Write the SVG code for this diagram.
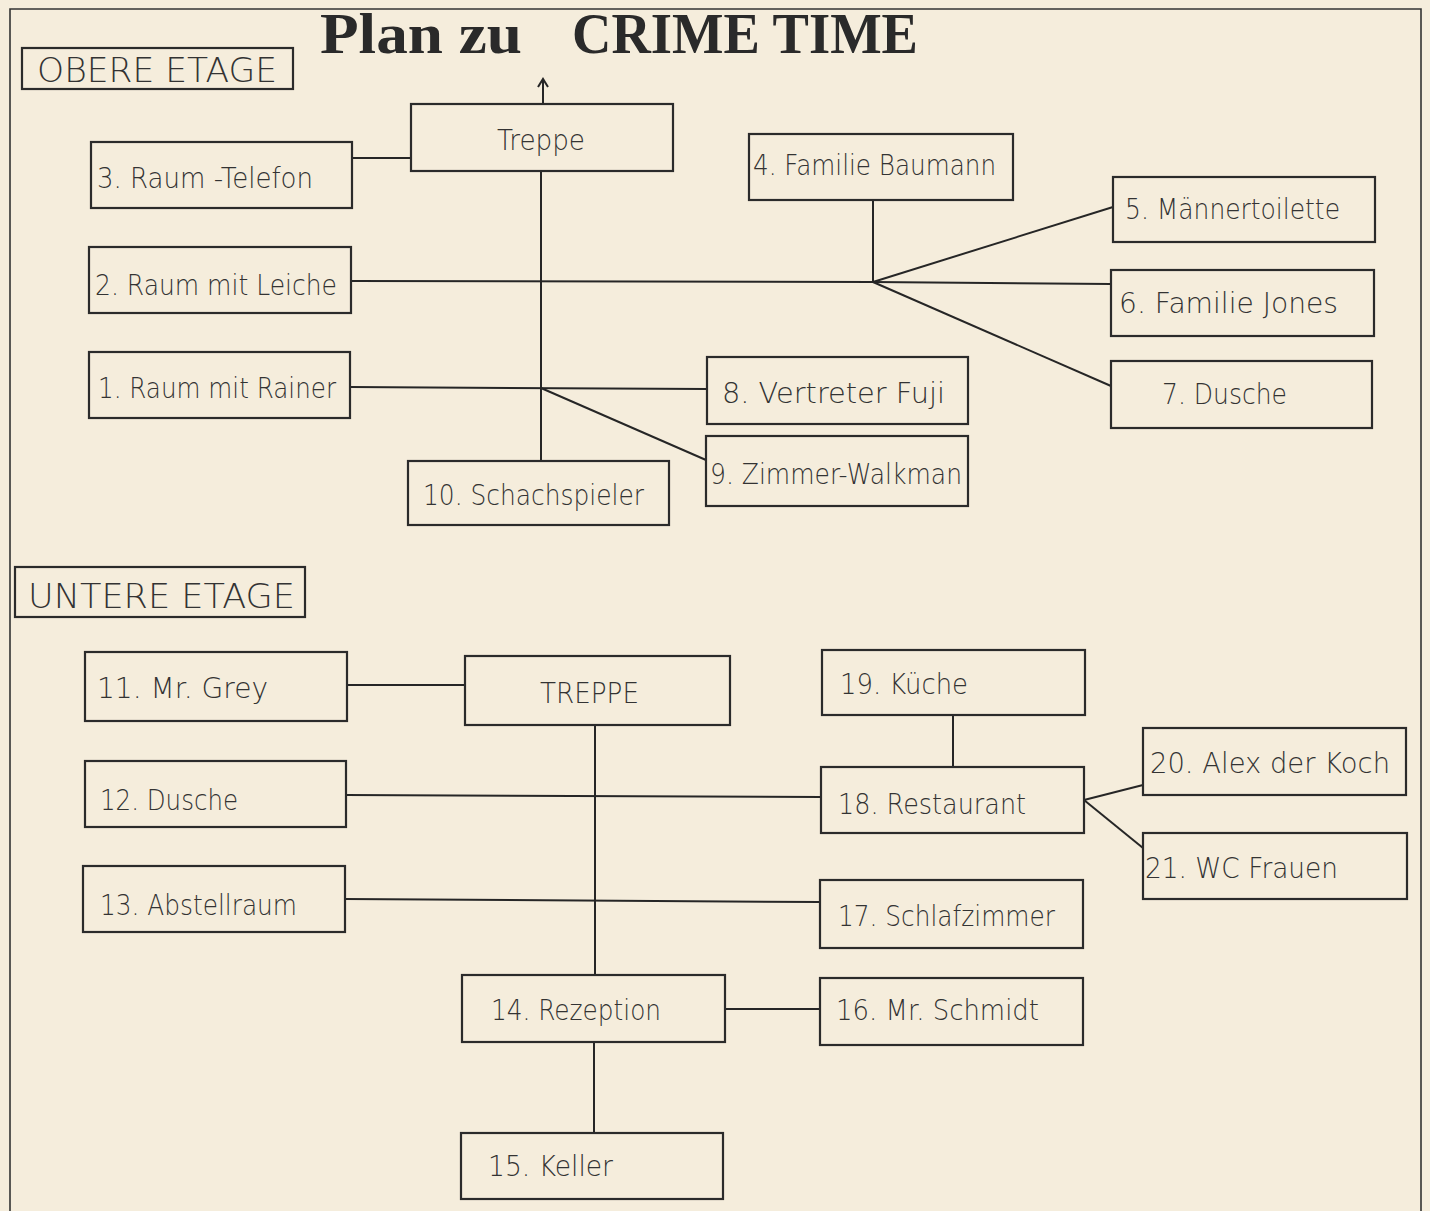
<svg xmlns="http://www.w3.org/2000/svg" width="1430" height="1211" viewBox="0 0 1430 1211">
<style>
.bg{fill:#f5eddc}
.frame{fill:none;stroke:#333;stroke-width:1.6}
.box{fill:none;stroke:#2b2b2b;stroke-width:2.2}
.lbl{font-family:"DejaVu Sans","Liberation Sans",sans-serif;font-weight:200;font-size:28px;fill:#333}
.big{font-size:33px}
.title{font-family:"Liberation Serif","DejaVu Serif",serif;font-weight:bold;font-size:56px;fill:#2a2a2a}
#connectors line,#connectors polyline{stroke:#262626;stroke-width:2;fill:none}
</style>
<rect class="bg" x="0" y="0" width="1430" height="1211"/>
<polyline class="frame" points="10,1211 10,9 1421,9 1421,1211"/>
<g id="title">
<text class="title" x="320" y="53" textLength="202" lengthAdjust="spacingAndGlyphs">Plan zu</text>
<text class="title" x="572" y="53" textLength="346" lengthAdjust="spacingAndGlyphs">CRIME TIME</text>
</g>
<g id="connectors">
<line x1="543" y1="104" x2="543" y2="80"/>
<polyline points="538,87 543,79 548,87"/>
<line x1="352" y1="158" x2="411" y2="158"/>
<line x1="541" y1="171" x2="541" y2="461"/>
<line x1="351" y1="281" x2="873" y2="282"/>
<line x1="873" y1="200" x2="873" y2="282"/>
<line x1="873" y1="282" x2="1113" y2="207"/>
<line x1="873" y1="282" x2="1111" y2="284"/>
<line x1="873" y1="282" x2="1111" y2="386"/>
<line x1="350" y1="387" x2="707" y2="389"/>
<line x1="541" y1="388" x2="706" y2="460"/>
<line x1="347" y1="685" x2="465" y2="685"/>
<line x1="595" y1="725" x2="595" y2="975"/>
<line x1="346" y1="795" x2="821" y2="797"/>
<line x1="953" y1="715" x2="953" y2="767"/>
<line x1="1084" y1="800" x2="1143" y2="785"/>
<line x1="1084" y1="800" x2="1143" y2="848"/>
<line x1="345" y1="899" x2="820" y2="902"/>
<line x1="725" y1="1009" x2="820" y2="1009"/>
<line x1="594" y1="1042" x2="594" y2="1133"/>
</g>
<g id="obere-etage"><rect class="box" x="22" y="48" width="271" height="41"/><text class="lbl big" x="37" y="82" textLength="240" lengthAdjust="spacingAndGlyphs">OBERE ETAGE</text></g>
<g id="treppe"><rect class="box" x="411" y="104" width="262" height="67"/><text class="lbl" x="497" y="150" textLength="88" lengthAdjust="spacingAndGlyphs">Treppe</text></g>
<g id="n3"><rect class="box" x="91" y="142" width="261" height="66"/><text class="lbl" x="97" y="188" textLength="216" lengthAdjust="spacingAndGlyphs">3. Raum -Telefon</text></g>
<g id="n4"><rect class="box" x="749" y="134" width="264" height="66"/><text class="lbl" x="753" y="175" textLength="243" lengthAdjust="spacingAndGlyphs">4. Familie Baumann</text></g>
<g id="n5"><rect class="box" x="1113" y="177" width="262" height="65"/><text class="lbl" x="1125" y="219" textLength="215" lengthAdjust="spacingAndGlyphs">5. Männertoilette</text></g>
<g id="n2"><rect class="box" x="89" y="247" width="262" height="66"/><text class="lbl" x="95" y="295" textLength="242" lengthAdjust="spacingAndGlyphs">2. Raum mit Leiche</text></g>
<g id="n6"><rect class="box" x="1111" y="270" width="263" height="66"/><text class="lbl" x="1119" y="313" textLength="219" lengthAdjust="spacingAndGlyphs">6.  Familie Jones</text></g>
<g id="n1"><rect class="box" x="89" y="352" width="261" height="66"/><text class="lbl" x="98" y="398" textLength="238" lengthAdjust="spacingAndGlyphs">1. Raum mit Rainer</text></g>
<g id="n8"><rect class="box" x="707" y="357" width="261" height="67"/><text class="lbl" x="722" y="403" textLength="223" lengthAdjust="spacingAndGlyphs">8. Vertreter Fuji</text></g>
<g id="n7"><rect class="box" x="1111" y="361" width="261" height="67"/><text class="lbl" x="1162" y="404" textLength="125" lengthAdjust="spacingAndGlyphs">7. Dusche</text></g>
<g id="n9"><rect class="box" x="706" y="436" width="262" height="70"/><text class="lbl" x="710" y="484" textLength="252" lengthAdjust="spacingAndGlyphs">9. Zimmer-Walkman</text></g>
<g id="n10"><rect class="box" x="408" y="461" width="261" height="64"/><text class="lbl" x="423" y="505" textLength="221" lengthAdjust="spacingAndGlyphs">10. Schachspieler</text></g>
<g id="untere-etage"><rect class="box" x="15" y="567" width="290" height="50"/><text class="lbl big" x="28" y="608" textLength="267" lengthAdjust="spacingAndGlyphs">UNTERE ETAGE</text></g>
<g id="n11"><rect class="box" x="85" y="652" width="262" height="69"/><text class="lbl" x="97" y="698" textLength="171" lengthAdjust="spacingAndGlyphs">11. Mr. Grey</text></g>
<g id="treppe2"><rect class="box" x="465" y="656" width="265" height="69"/><text class="lbl" x="540" y="703" textLength="99" lengthAdjust="spacingAndGlyphs">TREPPE</text></g>
<g id="n19"><rect class="box" x="822" y="650" width="263" height="65"/><text class="lbl" x="840" y="694" textLength="128" lengthAdjust="spacingAndGlyphs">19. Küche</text></g>
<g id="n12"><rect class="box" x="85" y="761" width="261" height="66"/><text class="lbl" x="100" y="810" textLength="138" lengthAdjust="spacingAndGlyphs">12. Dusche</text></g>
<g id="n18"><rect class="box" x="821" y="767" width="263" height="66"/><text class="lbl" x="838" y="814" textLength="188" lengthAdjust="spacingAndGlyphs">18. Restaurant</text></g>
<g id="n20"><rect class="box" x="1143" y="728" width="263" height="67"/><text class="lbl" x="1150" y="773" textLength="240" lengthAdjust="spacingAndGlyphs">20. Alex der Koch</text></g>
<g id="n21"><rect class="box" x="1143" y="833" width="264" height="66"/><text class="lbl" x="1145" y="878" textLength="193" lengthAdjust="spacingAndGlyphs">21. WC Frauen</text></g>
<g id="n13"><rect class="box" x="83" y="866" width="262" height="66"/><text class="lbl" x="100" y="915" textLength="197" lengthAdjust="spacingAndGlyphs">13. Abstellraum</text></g>
<g id="n17"><rect class="box" x="820" y="880" width="263" height="68"/><text class="lbl" x="838" y="926" textLength="217" lengthAdjust="spacingAndGlyphs">17. Schlafzimmer</text></g>
<g id="n14"><rect class="box" x="462" y="975" width="263" height="67"/><text class="lbl" x="491" y="1020" textLength="170" lengthAdjust="spacingAndGlyphs">14. Rezeption</text></g>
<g id="n16"><rect class="box" x="820" y="978" width="263" height="67"/><text class="lbl" x="836" y="1020" textLength="203" lengthAdjust="spacingAndGlyphs">16. Mr. Schmidt</text></g>
<g id="n15"><rect class="box" x="461" y="1133" width="262" height="66"/><text class="lbl" x="488" y="1176" textLength="125" lengthAdjust="spacingAndGlyphs">15. Keller</text></g>
</svg>
